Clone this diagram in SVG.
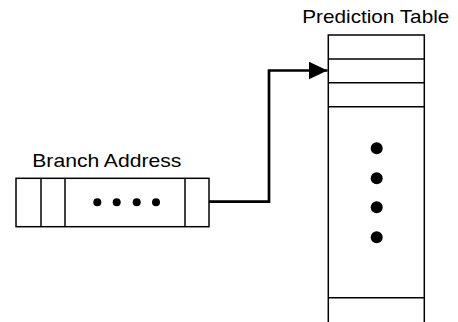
<svg xmlns="http://www.w3.org/2000/svg" width="458" height="322" viewBox="0 0 458 322">
<style>
.box{fill:#fff;stroke:#000;stroke-width:1.5}
.ln{stroke:#000;stroke-width:1.5;fill:none}
.lbl{font-family:"Liberation Sans",Arial,sans-serif;font-size:18.5px;fill:#000}
.dot{fill:#000}
.conn{stroke:#000;stroke-width:2.7;fill:none}
</style>
<defs>
<marker id="arr" markerUnits="userSpaceOnUse" markerWidth="20" markerHeight="18" refX="19" refY="9" orient="auto">
<path d="M0,0 L19,9 L0,18 Z" fill="#000"/>
</marker>
</defs>
<g id="branch-address">
<text class="lbl" x="32.3" y="166.7" textLength="149" lengthAdjust="spacingAndGlyphs">Branch Address</text>
<rect class="box" x="16" y="178.3" width="193" height="48.4"/>
<line class="ln" x1="41" y1="178.3" x2="41" y2="226.7"/>
<line class="ln" x1="65" y1="178.3" x2="65" y2="226.7"/>
<line class="ln" x1="185" y1="178.3" x2="185" y2="226.7"/>
<circle class="dot" cx="97.3" cy="202.3" r="4"/>
<circle class="dot" cx="116.7" cy="202.3" r="4"/>
<circle class="dot" cx="136.7" cy="202.3" r="4"/>
<circle class="dot" cx="156" cy="202.3" r="4"/>
</g>
<g id="prediction-table">
<text class="lbl" x="302.3" y="22.7" textLength="147" lengthAdjust="spacingAndGlyphs">Prediction Table</text>
<rect class="box" x="328.3" y="35" width="96" height="292"/>
<line class="ln" x1="328.3" y1="59" x2="424.3" y2="59"/>
<line class="ln" x1="328.3" y1="82.7" x2="424.3" y2="82.7"/>
<line class="ln" x1="328.3" y1="106.7" x2="424.3" y2="106.7"/>
<line class="ln" x1="328.3" y1="297.8" x2="424.3" y2="297.8"/>
<circle class="dot" cx="376.7" cy="148.3" r="6"/>
<circle class="dot" cx="376.7" cy="178.3" r="6"/>
<circle class="dot" cx="376.7" cy="207.3" r="6"/>
<circle class="dot" cx="376.7" cy="237.3" r="6"/>
</g>
<g id="connectors">
<path class="conn" d="M209,201.7 H269 V70.5 H327.5" marker-end="url(#arr)"/>
</g>
</svg>
